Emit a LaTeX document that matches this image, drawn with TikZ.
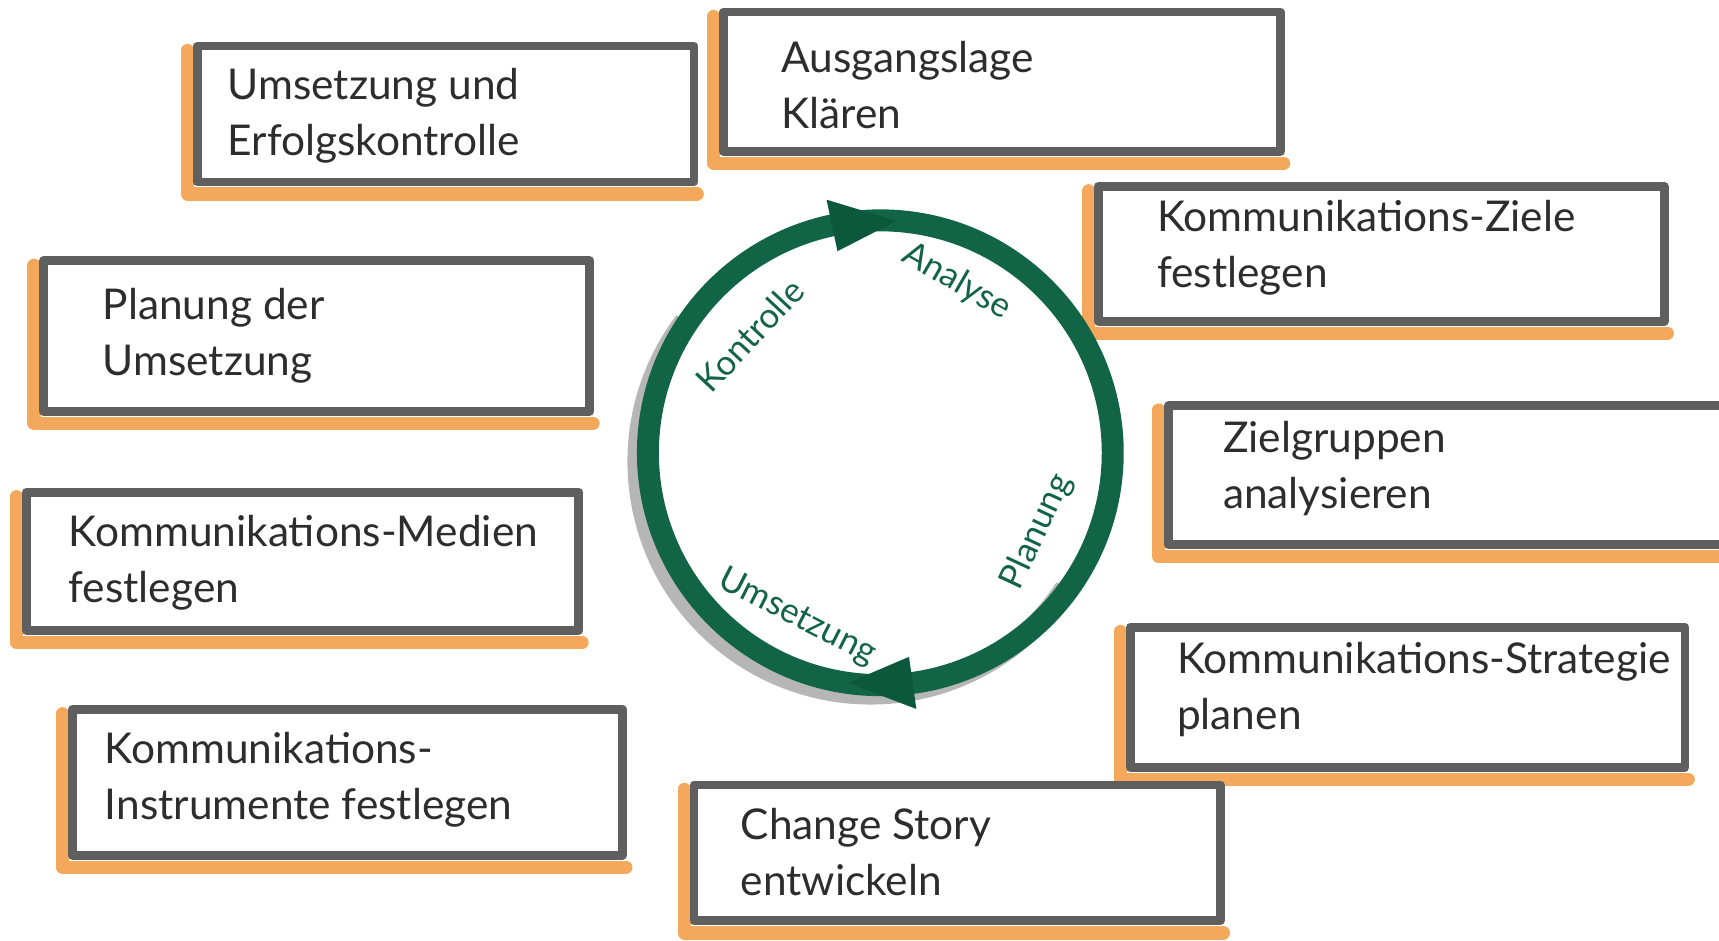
\documentclass[tikz,border=0pt]{standalone}
\usepackage{fontspec}
\setmainfont{Lato}
\usetikzlibrary{calc,fit}
\definecolor{framegray}{RGB}{95,95,95}
\definecolor{markerorange}{RGB}{243,168,92}
\definecolor{ringgreen}{RGB}{18,100,70}
\definecolor{arrowgreen}{RGB}{12,88,60}
\definecolor{shadowgray}{RGB}{182,182,182}
\definecolor{inkgray}{RGB}{45,45,45}
\begin{document}
\begin{tikzpicture}[x=0.01cm,y=-0.01cm,
  frame/.style={draw=framegray, line width=2.3pt, fill=white, inner sep=0pt, line join=round},
  orangeedge/.style={draw=markerorange, line width=3.4pt, line cap=round, line join=round},
  boxtext/.style={anchor=north west, inner sep=0pt, align=left, text=inkgray, font=\fontsize{11}{14.5}\selectfont},
  cyclelabel/.style={text=ringgreen, font=\fontsize{9}{11}\selectfont, inner sep=0pt}]
\useasboundingbox (0,0) rectangle (1568,858);
\clip (0,0) rectangle (1568,858);
\fill[white] (0,0) rectangle (1568,858);

% boxes
\foreach \nm/\xa/\ya/\xb/\yb in {bA/180/42/633/166, bB/660/11/1168/138, bC/1002/170/1518/293,
  bD/40/238/538/375, bE/1066/370/1590/497, bF/24/449/528/575, bG/1031/572/1537/700,
  bH/66/647/568/780, bI/633/716/1113/840}{
  \draw[orangeedge] (\xa-9,\ya+4) -- (\xa-9,\yb+11) -- (\xb+3,\yb+11);
  \node[frame, fit={(\xa,\ya) (\xb,\yb)}] (\nm) {};
}

\node[boxtext] (tA) at (207,62) {Umsetzung und\\Erfolgskontrolle};
\node[boxtext] (tB) at (712,37) {Ausgangslage\\Klären};
\node[boxtext] (tC) at (1055,182) {Kommunikations-Ziele\\festlegen};
\node[boxtext] (tD) at (93,262) {Planung der\\Umsetzung};
\node[boxtext] (tE) at (1115,384) {Zielgruppen\\analysieren};
\node[boxtext] (tF) at (62,469) {Kommunikations-Medien\\festlegen};
\node[boxtext] (tG) at (1073,585) {Kommunikations-Strategie\\planen};
\node[boxtext] (tH) at (95,667) {Kommunikations-\\Instrumente festlegen};
\node[boxtext] (tI) at (675,737) {Change Story\\entwickeln};

% cycle
\begin{scope}[shift={(803,413)}, y=0.01cm]
  \draw[shadowgray, line width=5.5pt] ($(143:212)+(-9,-8)$) arc[start angle=143, end angle=327, radius=212];
  \draw[ringgreen, line width=5.7pt] (0,0) circle[radius=212];
  \fill[arrowgreen] (102:236) -- (86:212) -- (102:188) -- cycle;
  \fill[arrowgreen] (-82:236) -- (-98:212) -- (-82:188) -- cycle;
  \node[cyclelabel, rotate=-30] (lA) at (70,156) {Analyse};
  \node[cyclelabel, rotate=65] (lP) at (143,-72) {Planung};
  \node[cyclelabel, rotate=-27] (lU) at (-76,-150) {Umsetzung};
  \node[cyclelabel, rotate=47] (lK) at (-119,107) {Kontrolle};
\end{scope}
\end{tikzpicture}
\end{document}
